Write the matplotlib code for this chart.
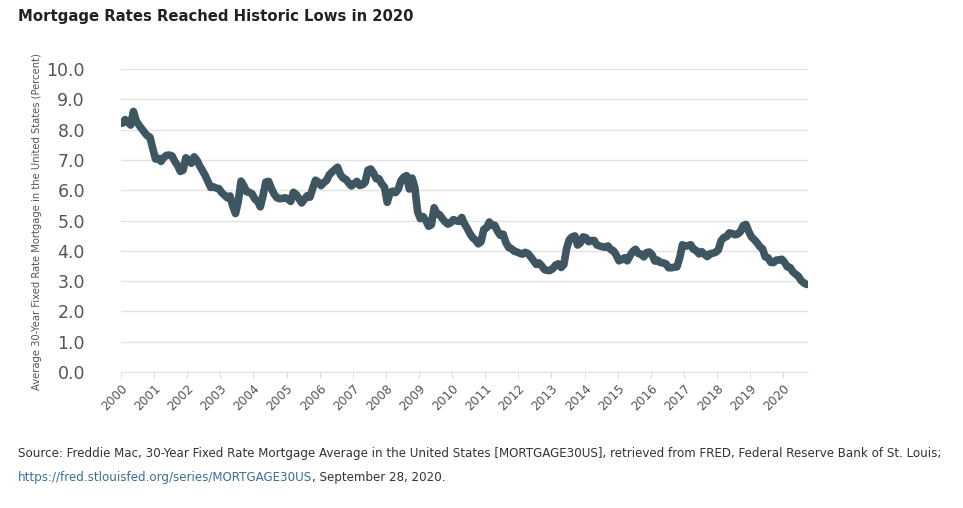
import matplotlib
matplotlib.use("Agg")
import matplotlib.pyplot as plt
import numpy as np

# Monthly average 30-year fixed mortgage rate (percent), Jan 2000 - Sep 2020
rates_2000 = [8.21, 8.33, 8.24, 8.15, 8.60, 8.29, 8.15, 8.03, 7.91, 7.80, 7.75, 7.38]
rates_2001 = [7.03, 7.05, 6.95, 7.08, 7.15, 7.16, 7.13, 6.95, 6.82, 6.62, 6.66, 7.07]
rates_2002 = [7.00, 6.89, 7.10, 6.99, 6.81, 6.65, 6.49, 6.29, 6.09, 6.11, 6.07, 6.05]
rates_2003 = [5.92, 5.84, 5.75, 5.81, 5.48, 5.23, 5.63, 6.30, 6.15, 5.95, 5.93, 5.88]
rates_2004 = [5.71, 5.64, 5.45, 5.83, 6.27, 6.29, 6.06, 5.87, 5.75, 5.72, 5.73, 5.75]
rates_2005 = [5.71, 5.63, 5.93, 5.86, 5.72, 5.58, 5.70, 5.82, 5.77, 6.07, 6.33, 6.27]
rates_2006 = [6.15, 6.25, 6.32, 6.51, 6.60, 6.68, 6.76, 6.52, 6.40, 6.36, 6.24, 6.14]
rates_2007 = [6.22, 6.29, 6.16, 6.18, 6.26, 6.66, 6.70, 6.57, 6.38, 6.38, 6.21, 6.10]
rates_2008 = [5.60, 5.92, 5.97, 5.92, 6.04, 6.32, 6.43, 6.48, 6.04, 6.40, 6.09, 5.29]
rates_2009 = [5.06, 5.13, 5.00, 4.81, 4.86, 5.42, 5.22, 5.19, 5.06, 4.95, 4.88, 4.93]
rates_2010 = [5.03, 4.99, 4.97, 5.10, 4.89, 4.74, 4.56, 4.43, 4.35, 4.23, 4.30, 4.71]
rates_2011 = [4.76, 4.95, 4.84, 4.84, 4.64, 4.51, 4.55, 4.27, 4.11, 4.07, 3.99, 3.96]
rates_2012 = [3.92, 3.89, 3.95, 3.91, 3.80, 3.68, 3.55, 3.60, 3.50, 3.38, 3.35, 3.35]
rates_2013 = [3.41, 3.53, 3.57, 3.45, 3.54, 4.07, 4.37, 4.46, 4.49, 4.19, 4.26, 4.46]
rates_2014 = [4.43, 4.30, 4.34, 4.34, 4.19, 4.16, 4.13, 4.12, 4.16, 4.04, 4.00, 3.86]
rates_2015 = [3.67, 3.71, 3.77, 3.67, 3.84, 3.98, 4.05, 3.91, 3.89, 3.80, 3.94, 3.96]
rates_2016 = [3.87, 3.66, 3.69, 3.61, 3.60, 3.57, 3.44, 3.44, 3.46, 3.47, 3.77, 4.20]
rates_2017 = [4.15, 4.17, 4.20, 4.05, 4.01, 3.90, 3.97, 3.88, 3.81, 3.90, 3.92, 3.95]
rates_2018 = [4.03, 4.33, 4.44, 4.47, 4.59, 4.57, 4.53, 4.55, 4.63, 4.83, 4.87, 4.64]
rates_2019 = [4.46, 4.37, 4.27, 4.14, 4.07, 3.80, 3.77, 3.62, 3.61, 3.69, 3.70, 3.72]
rates_2020 = [3.62, 3.47, 3.45, 3.31, 3.23, 3.16, 3.02, 2.94, 2.89]

rates = (rates_2000 + rates_2001 + rates_2002 + rates_2003 + rates_2004 + rates_2005 +
         rates_2006 + rates_2007 + rates_2008 + rates_2009 + rates_2010 + rates_2011 +
         rates_2012 + rates_2013 + rates_2014 + rates_2015 + rates_2016 + rates_2017 +
         rates_2018 + rates_2019 + rates_2020)
start_year = 2000
dates = start_year + (np.arange(len(rates)) + 0.5) / 12.0

year_ticks = list(range(2000, 2021))
y_ticks = [0, 1, 2, 3, 4, 5, 6, 7, 8, 9, 10]

title = "Mortgage Rates Reached Historic Lows in 2020"
ylabel = "Average 30-Year Fixed Rate Mortgage in the United States (Percent)"
source1 = ("Source: Freddie Mac, 30-Year Fixed Rate Mortgage Average in the United States "
           "[MORTGAGE30US], retrieved from FRED, Federal Reserve Bank of St. Louis;")
link = "https://fred.stlouisfed.org/series/MORTGAGE30US"
source2 = ", September 28, 2020."

plt.rcParams['font.family'] = ['DejaVu Sans']

fig = plt.figure(figsize=(9.63, 5.08), dpi=100)
ax = fig.add_axes([121/963, 1 - 372/508, (808-121)/963, (372-69)/508])

ax.plot(dates, rates, color="#3e5662", linewidth=5.5, solid_capstyle="round",
        solid_joinstyle="round")

ax.set_xlim(2000, 2020.75)
ax.set_ylim(0, 10)
ax.set_yticks(y_ticks)
ax.set_yticklabels([f"{v:.1f}" for v in y_ticks])
ax.set_xticks(year_ticks)
ax.set_xticklabels([str(y) for y in year_ticks], rotation=45, ha="right",
                   rotation_mode="anchor")

ax.grid(axis="y", color="#e3e3e3", linewidth=1.0)
ax.set_axisbelow(True)
for s in ["top", "right", "left"]:
    ax.spines[s].set_visible(False)
ax.spines["bottom"].set_color("#e3e3e3")
ax.tick_params(axis="y", length=0, pad=26, labelsize=12.5, labelcolor="#555555")
ax.tick_params(axis="x", length=4, color="#dddddd", pad=3, labelsize=8.8,
               labelcolor="#555555")

fig.text(37/963, 1 - 222/508, ylabel, rotation=90, ha="center", va="center",
         fontsize=7.2, color="#555555")

fig.text(18/963, 1 - 17/508, title, ha="left", va="center", fontsize=10.7,
         fontweight="bold", color="#222222")

fig.text(18/963, 1 - 453/508, source1, ha="left", va="center", fontsize=8.55,
         color="#333333")
t_link = fig.text(18/963, 1 - 477/508, link, ha="left", va="center", fontsize=8.55,
                  color="#3b6e98")
ax.annotate(source2, xy=(1, 0.5), xycoords=t_link, ha="left", va="center",
            fontsize=8.55, color="#333333", annotation_clip=False)

fig.savefig("out.png", dpi=100)
